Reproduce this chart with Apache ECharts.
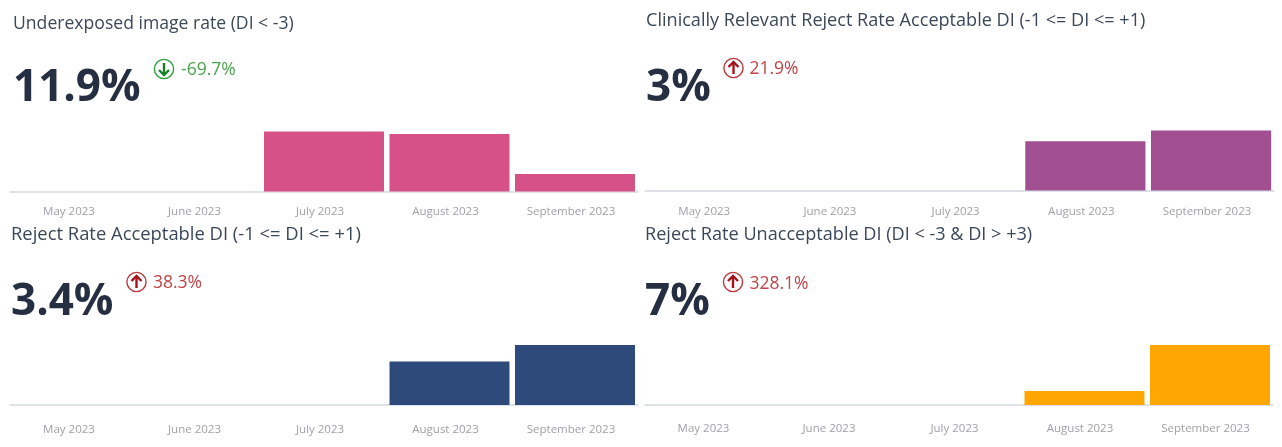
<!DOCTYPE html>
<html><head><meta charset="utf-8">
<style>html,body{margin:0;padding:0;background:#fff}#c{width:1282px;height:447px}</style>
<script src="https://cdn.jsdelivr.net/npm/echarts@6/dist/echarts.min.js"></script>
</head><body><div id="c"></div>
<script>
const months = ['May 2023','June 2023','July 2023','August 2023','September 2023'];
const underexposed = [null,null,41,39.3,11.9];
const clinical = [null,null,null,2.46,3];
const rejectAcceptable = [null,null,null,2.46,3.4];
const rejectUnacceptable = [null,null,null,1.635,7];
const titles = ['Underexposed image rate (DI < -3)','Clinically Relevant Reject Rate Acceptable DI (-1 <= DI <= +1)','Reject Rate Acceptable DI (-1 <= DI <= +1)','Reject Rate Unacceptable DI (DI < -3 & DI > +3)'];
const kpis = ['11.9%','3%','3.4%','7%'];
const deltas = ['-69.7%','21.9%','38.3%','328.1%'];
const colors = ['#d55187','#a14f91','#2e4a7a','#ffa600'];
const seriesData = [underexposed,clinical,rejectAcceptable,rejectUnacceptable];
const layout = [
 {l:10.25,w:627.5,axis:191.5,h:60,max:41,tx:13,ty:23,tf:17.6,kx:13,ky:85,ix:164,iy:69,dx:181,dy:69,pad:8,m:14},
 {l:645.4,w:628.5,axis:190.5,h:60,max:3,tx:646,ty:20,tf:18.1,kx:646,ky:85,ix:733.5,iy:68,dx:749.5,dy:68,pad:8,m:15},
 {l:10.25,w:627.5,axis:405,h:60,max:3.4,tx:11,ty:234,tf:18.4,kx:11,ky:299,ix:136.5,iy:282,dx:153,dy:282,pad:8,m:18.5},
 {l:645.25,w:627.5,axis:405,h:60,max:7,tx:645,ty:234,tf:18.1,kx:645,ky:299,ix:733,iy:282,dx:749.5,dy:283,pad:9,m:17.5}
];
const FONT='"Open Sans","Noto Sans",sans-serif';
const grid=[],xAxis=[],yAxis=[],series=[],graphic=[];
layout.forEach((p,i)=>{
 grid.push({left:p.l,top:p.axis-p.h,width:p.w,height:p.h});
 xAxis.push({type:'category',gridIndex:i,data:months,
   axisLine:{lineStyle:{color:'#dfe1e8',width:2}},axisTick:{show:false},
   axisLabel:{color:'#a0a0aa',fontSize:11.5,fontFamily:FONT,margin:p.m,interval:0,padding:[0,p.pad,0,0]}});
 yAxis.push({type:'value',gridIndex:i,min:0,max:p.max,show:false,splitLine:{show:false}});
 series.push({type:'bar',xAxisIndex:i,yAxisIndex:i,data:seriesData[i],barCategoryGap:'4.4%',
   itemStyle:{color:colors[i]},silent:true,animation:false});
 const up=i>0;
 const ring=up?'#b83a3e':'#2f9e3f', arrow=up?'#a5121b':'#16812a', txt=up?'#c04448':'#4ba24f';
 const ay=up?1:-1;
 graphic.push({type:'text',left:p.tx,top:p.ty-8,style:{text:titles[i],font:p.tf+'px '+FONT,fill:'#3b4859'}});
 graphic.push({type:'text',left:p.kx,top:p.ky-19,style:{text:kpis[i],font:'bold 44px '+FONT,fill:'#252f41'}});
 graphic.push({type:'text',left:p.dx,top:p.dy-8,style:{text:deltas[i],font:'17.5px '+FONT,fill:txt}});
 graphic.push({type:'circle',shape:{cx:p.ix,cy:p.iy,r:9.6},style:{fill:'none',stroke:ring,lineWidth:1.4}});
 graphic.push({type:'line',shape:{x1:p.ix,y1:p.iy+ay*6,x2:p.ix,y2:p.iy-ay*5},style:{stroke:arrow,lineWidth:2.4}});
 graphic.push({type:'polyline',shape:{points:[[p.ix-5,p.iy-ay*1],[p.ix,p.iy-ay*6],[p.ix+5,p.iy-ay*1]]},style:{fill:'none',stroke:arrow,lineWidth:2.4}});
});
const chart=echarts.init(document.getElementById('c'),null,{renderer:'canvas'});
chart.setOption({animation:false,backgroundColor:'#fff',grid,xAxis,yAxis,series,graphic});
</script></body></html>
